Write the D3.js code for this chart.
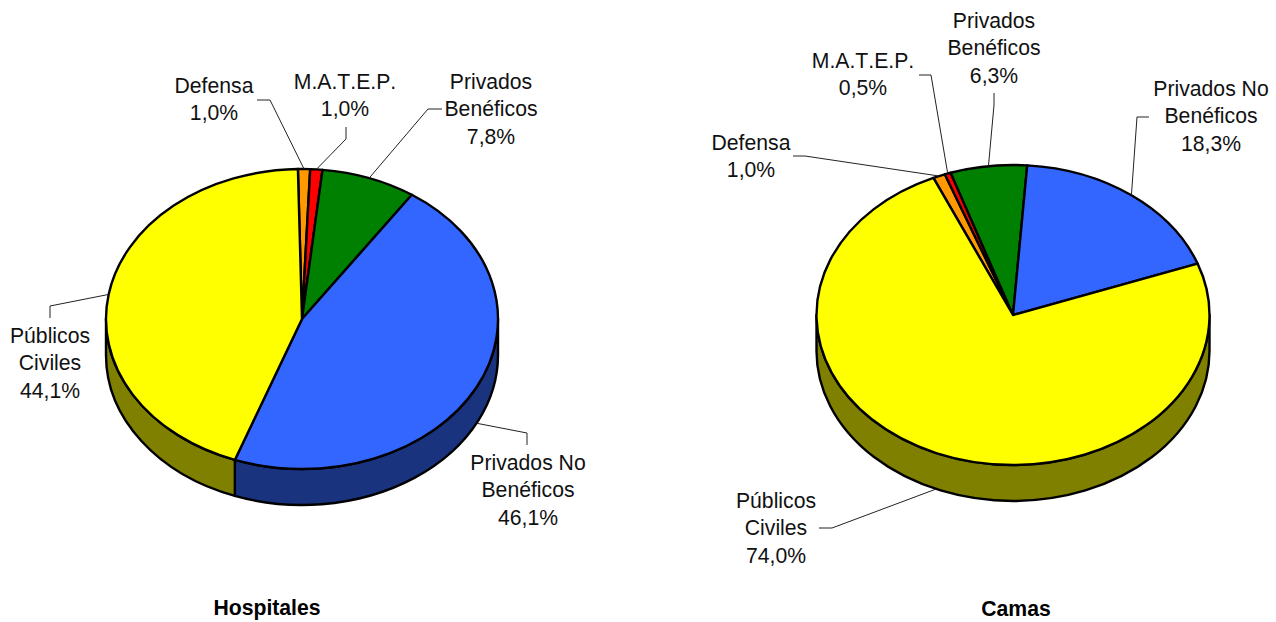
<!DOCTYPE html>
<meta charset="utf-8">
<title>Hospitales y Camas</title>
<style>

body {
  margin: 0;
  background: #fff;
}

text {
  font-family: "Liberation Sans", Arial, sans-serif;
  font-size: 21.2px;
  font-kerning: none;
  fill: #111;
  text-anchor: middle;
}

.titulo {
  font-weight: bold;
  fill: #000;
}

.top, .wall {
  stroke: #000;
  stroke-width: 2.4px;
  stroke-linejoin: round;
  vector-effect: non-scaling-stroke;
}

.leader {
  fill: none;
  stroke: #222;
  stroke-width: 1px;
}

</style>
<svg width="1276" height="622"></svg>
<script src="https://cdn.jsdelivr.net/npm/d3@7"></script>
<script>

var categories = ["Defensa", "M.A.T.E.P.", "Privados Benéficos", "Privados No Benéficos", "Públicos Civiles"];
var hospitalesValues = [1.0, 1.0, 7.8, 46.1, 44.1];
var camasValues = [1.0, 0.5, 6.3, 18.3, 74.0];

var labelLines = [
  ["Defensa"],
  ["M.A.T.E.P."],
  ["Privados", "Benéficos"],
  ["Privados No", "Benéficos"],
  ["Públicos", "Civiles"]
];

var topColors = ["#ff9900", "#ff0000", "#008000", "#3366ff", "#ffff00"];
var wallColors = ["#804c00", "#800000", "#004000", "#1a337f", "#808000"];

// layout of each pie; x,y = text centre and first baseline, elbow = bend of the leader, from = its free end
var hospitalesLayout = {
  title: "Hospitales", titleX: 267, titleY: 615,
  cx: 302, cy: 319, rx: 196, ry: 150, depth: 36, start: -1.2,
  labels: [
    {x: 214, y: 93, from: [257, 100], elbow: [270, 100]},
    {x: 345, y: 89, from: [346, 127], elbow: [346, 139]},
    {x: 491, y: 89, from: [442, 109], elbow: [428, 109]},
    {x: 528, y: 470, from: [527, 445], elbow: [527, 433]},
    {x: 50, y: 343, from: [50, 318], elbow: [50, 306]}
  ]
};

var camasLayout = {
  title: "Camas", titleX: 1016, titleY: 616,
  cx: 1013, cy: 315, rx: 196.5, ry: 150, depth: 36, start: -23.9,
  labels: [
    {x: 751, y: 150, from: [793, 156], elbow: [805, 156]},
    {x: 863, y: 68, from: [919, 75], elbow: [931, 75]},
    {x: 994, y: 28, from: [994, 93], elbow: [994, 105]},
    {x: 1211, y: 96, from: [1149, 117], elbow: [1137, 117]},
    {x: 776, y: 508, from: [819, 528], elbow: [832, 528]}
  ]
};

var lineStep = 27.3;
var wallFrom = Math.PI / 2, wallTo = Math.PI * 1.5;

var svg = d3.select("svg");
var formatPct = d3.formatLocale({decimal: ",", thousands: ".", grouping: [3], currency: ["", ""]}).format(".1f");

function drawPie(values, o) {
  var startRad = o.start * Math.PI / 180;
  var pie = d3.pie().sort(null).startAngle(startRad).endAngle(startRad + Math.PI * 2);
  var slices = pie(values);

  var g = svg.append("g");

  function px(a) { return o.cx + o.rx * Math.sin(a); }
  function py(a) { return o.cy - o.ry * Math.cos(a); }

  // walls, only the front half of the rim shows
  g.selectAll(".wall")
      .data(slices.filter(function (d) {
        return wallRange(d) !== null;
      }))
    .enter().append("path")
      .attr("class", "wall")
      .style("fill", function (d) { return wallColors[d.index]; })
      .attr("d", function (d) {
        var r = wallRange(d), a0 = r[0], a1 = r[1];
        return "M" + px(a0) + "," + py(a0)
          + "A" + o.rx + "," + o.ry + " 0 0 1 " + px(a1) + "," + py(a1)
          + "L" + px(a1) + "," + (py(a1) + o.depth)
          + "A" + o.rx + "," + o.ry + " 0 0 0 " + px(a0) + "," + (py(a0) + o.depth)
          + "Z";
      });

  var arc = d3.arc().innerRadius(0).outerRadius(o.rx);

  g.append("g")
      .attr("transform", "translate(" + o.cx + "," + o.cy + ") scale(1," + (o.ry / o.rx) + ")")
    .selectAll(".top")
      .data(slices)
    .enter().append("path")
      .attr("class", "top")
      .style("fill", function (d) { return topColors[d.index]; })
      .attr("d", arc);

  // leaders start on the rim at the middle of the slice
  g.selectAll(".leader")
      .data(slices)
    .enter().append("path")
      .attr("class", "leader")
      .attr("d", function (d) {
        var mid = (d.startAngle + d.endAngle) / 2;
        var norm = (mid + Math.PI * 2) % (Math.PI * 2);
        var onWall = norm > wallFrom && norm < wallTo;
        var l = o.labels[d.index];
        return d3.line()([l.from, l.elbow, [px(mid), py(mid) + (onWall ? o.depth : 0)]]);
      });

  var label = g.selectAll(".label")
      .data(slices)
    .enter().append("text")
      .attr("class", "label");

  label.selectAll("tspan")
      .data(function (d) {
        return labelLines[d.index].concat([formatPct(d.value) + "%"]).map(function (t, i) {
          return {text: t, x: o.labels[d.index].x, y: o.labels[d.index].y + i * lineStep};
        });
      })
    .enter().append("tspan")
      .attr("x", function (d) { return d.x; })
      .attr("y", function (d) { return d.y; })
      .text(function (d) { return d.text; });

  g.append("text")
      .attr("class", "titulo")
      .attr("x", o.titleX)
      .attr("y", o.titleY)
      .text(o.title);
}

// part of a slice lying on the front half, or null
function wallRange(d) {
  var a0 = Math.max(d.startAngle, wallFrom);
  var a1 = Math.min(d.endAngle, wallTo);
  return a1 > a0 ? [a0, a1] : null;
}

drawPie(hospitalesValues, hospitalesLayout);
drawPie(camasValues, camasLayout);

</script>
